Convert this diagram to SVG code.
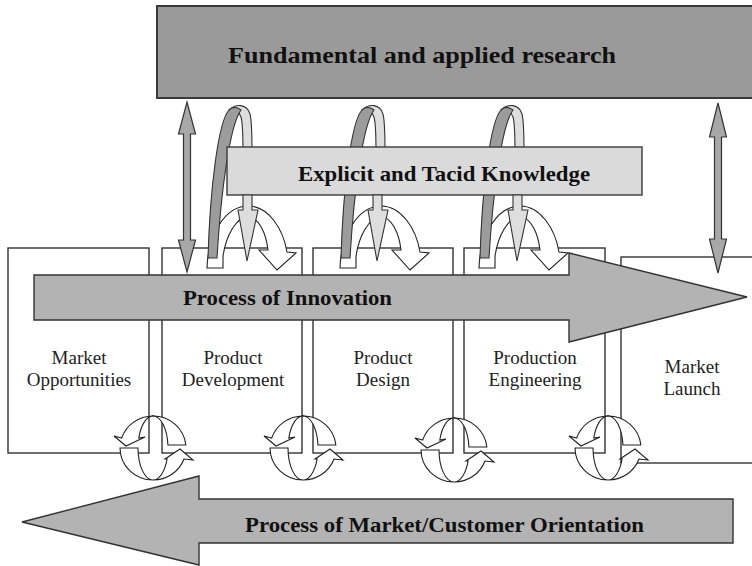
<svg xmlns="http://www.w3.org/2000/svg" width="752" height="566" viewBox="0 0 752 566">
  <style>
    .bg { fill: #ffffff; }
    .research { fill: #9a9a9a; stroke: #3a3a3a; stroke-width: 2; }
    .stage { fill: #ffffff; stroke: #333333; stroke-width: 1.4; }
    .bigarrow { fill: #b3b3b3; stroke: #333333; stroke-width: 1.4; stroke-linejoin: miter; }
    .knowbox { fill: #dadada; stroke: #3a3a3a; stroke-width: 1.4; }
    .dbl { fill: #a8a8a8; stroke: #333333; stroke-width: 1.2; }
    .ribdark { fill: #9c9c9c; stroke: #333333; stroke-width: 1.1; }
    .riblight { fill: #dedede; stroke: #333333; stroke-width: 1.1; }
    .outline { fill: #ffffff; stroke: #222222; stroke-width: 1.1; stroke-linejoin: miter; }
    .bold { font-family: "Liberation Serif", "Times New Roman", serif; font-weight: bold; fill: #111111; }
    .label { font-family: "Liberation Serif", "Times New Roman", serif; font-size: 19px; fill: #222222; text-anchor: middle; }
  </style>
  <defs>
    <!-- knowledge loop: ribbon arch, white curved arrow, down arrow -->
    <g id="loopBack">
      <path class="outline" d="M207,268 C208,235 225,206 248,206 C268,206 283,228 287,252 L296,253 L277,270 L259,250 L268,250 C266,232 258,217 248,217 C236,217 226,236 223,256 L223,268 Z"/>
      <path class="riblight" d="M229,110 C236,103 247,104 250,114 C252,122 252,135 252,152 L243,152 C243,136 243,124 241,117 C239,112 236,111 233,112 Z"/>
      <path class="ribdark" d="M208,258 C210,190 218,122 229,110 C233,106 237,107 241,110 C230,125 221,190 217,258 Z"/>
    </g>
    <path id="loopDown" class="riblight" d="M243,195 L252,195 L252,210 L258,210 L247,261 L238,210 L243,210 Z"/>
    <!-- pair of circular arrows at a stage boundary -->
    <g id="cycle">
      <path class="outline" d="M-31.3,-10 A33,32 0 0 1 0,-32 A33,32 0 0 1 32.85,-3 L14.93,-3 A15,32 0 0 0 0,-32 A15,32 0 0 0 -14.2,-10 L-8,-11 L-27,-2 L-39,-12 Z"/>
      <path class="outline" d="M-33,0 A33,32 0 0 0 0,32 A33,32 0 0 0 31,11 L40,12 L27,1 L12,11 L14.1,11 A15,32 0 0 1 0,32 A15,32 0 0 1 -15,0 Z"/>
    </g>
  </defs>

  <rect class="bg" x="0" y="0" width="752" height="566"/>

  <!-- research -->
  <g id="research">
    <rect class="research" x="157" y="6" width="600" height="92"/>
    <text class="bold" x="228" y="63" font-size="23" textLength="388" lengthAdjust="spacingAndGlyphs">Fundamental and applied research</text>
  </g>

  <!-- stages -->
  <g id="stage-market-opportunities">
    <rect class="stage" x="8" y="248" width="141" height="205"/>
  </g>
  <g id="stage-product-development">
    <rect class="stage" x="162" y="248" width="140" height="205"/>
  </g>
  <g id="stage-product-design">
    <rect class="stage" x="313" y="248" width="140" height="205"/>
  </g>
  <g id="stage-production-engineering">
    <rect class="stage" x="464" y="248" width="141" height="205"/>
  </g>
  <g id="stage-market-launch">
    <rect class="stage" x="621" y="257" width="140" height="206"/>
  </g>

  <!-- connectors -->
  <g id="connectors">
    <path class="dbl" d="M187,102 L195.5,134 L190.5,134 L190.5,240 L195.5,240 L187,272 L178.5,240 L183.5,240 L183.5,134 L178.5,134 Z"/>
    <path class="dbl" d="M718,103 L726.5,137 L721.5,137 L721.5,239 L726.5,239 L718,273 L709.5,239 L714.5,239 L714.5,137 L709.5,137 Z"/>
    <use href="#loopBack"/>
    <use href="#loopBack" transform="translate(133,0)"/>
    <use href="#loopBack" transform="translate(272,0)"/>
  </g>

  <!-- knowledge -->
  <g id="knowledge">
    <rect class="knowbox" x="227" y="147" width="415" height="48"/>
    <text class="bold" x="298" y="181" font-size="21" textLength="292" lengthAdjust="spacingAndGlyphs">Explicit and Tacid Knowledge</text>
  </g>

  <g id="knowledge-flow">
    <use href="#loopDown"/>
    <use href="#loopDown" transform="translate(130,0)"/>
    <use href="#loopDown" transform="translate(270,0)"/>
  </g>

  <!-- innovation process -->
  <g id="innovation">
    <path class="bigarrow" d="M34,275 L569,275 L569,253 L747,297 L569,342 L569,320 L34,320 Z"/>
    <text class="bold" x="183" y="305" font-size="21" textLength="209" lengthAdjust="spacingAndGlyphs">Process of Innovation</text>
  </g>

  <!-- stage labels -->
  <g id="stage-labels">
    <text class="label" x="79" y="364">Market</text>
    <text class="label" x="79" y="386">Opportunities</text>
    <text class="label" x="233" y="364">Product</text>
    <text class="label" x="233" y="386">Development</text>
    <text class="label" x="383" y="364">Product</text>
    <text class="label" x="383" y="386">Design</text>
    <text class="label" x="535" y="364">Production</text>
    <text class="label" x="535" y="386">Engineering</text>
    <text class="label" x="692" y="373">Market</text>
    <text class="label" x="692" y="395">Launch</text>
  </g>

  <!-- feedback cycles -->
  <g id="cycles">
    <use href="#cycle" transform="translate(153,448)"/>
    <use href="#cycle" transform="translate(303,448)"/>
    <use href="#cycle" transform="translate(454,450)"/>
    <use href="#cycle" transform="translate(608,448)"/>
  </g>

  <!-- market orientation -->
  <g id="market-orientation">
    <path class="bigarrow" d="M733,499 L199,499 L199,476 L22,522 L199,565 L199,543 L733,543 Z"/>
    <text class="bold" x="245" y="532" font-size="21" textLength="399" lengthAdjust="spacingAndGlyphs">Process of Market/Customer Orientation</text>
  </g>
</svg>
